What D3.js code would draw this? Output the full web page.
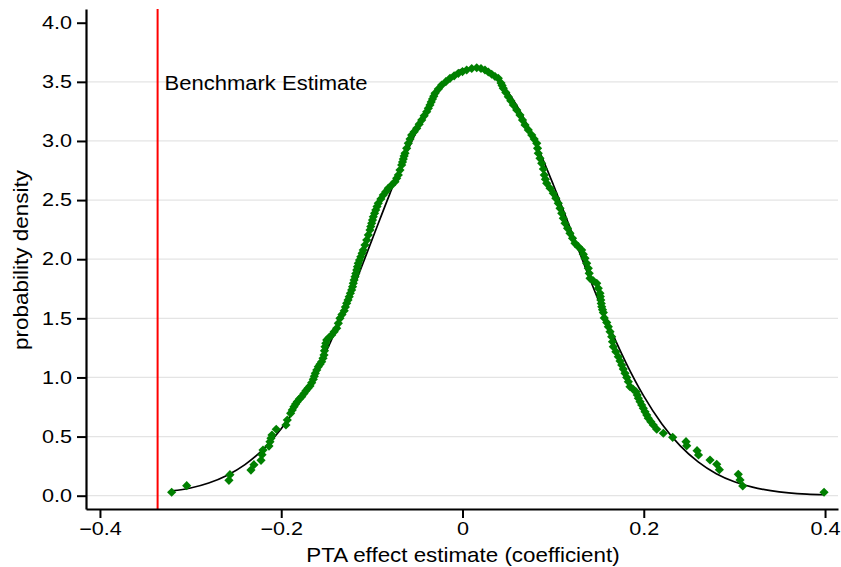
<!DOCTYPE html>
<html>
<head>
<meta charset="utf-8">
<script src="https://cdn.jsdelivr.net/npm/d3@7"></script>
<style>
  body { margin: 0; background: #fff; }
  text { font-family: "Liberation Sans", Arial, sans-serif; }
</style>
</head>
<body>
<div id="chart"></div>
<script>
// Benchmark coefficient (red line)
var benchmark = -0.3364;

// Normal density curve (black line)
var normX = [-0.321, -0.30, -0.28, -0.26, -0.24, -0.22, -0.20, -0.18, -0.16, -0.14, -0.12, -0.10,
             -0.08, -0.06, -0.04, -0.02, 0.00, 0.02, 0.04, 0.06, 0.08, 0.10, 0.12, 0.14,
             0.16, 0.18, 0.20, 0.22, 0.24, 0.26, 0.28, 0.30, 0.32, 0.34, 0.36, 0.38, 0.399];
var normY = [0.040, 0.065, 0.107, 0.171, 0.263, 0.392, 0.567, 0.791, 1.069, 1.396, 1.766, 2.161,
             2.557, 2.928, 3.244, 3.477, 3.606, 3.617, 3.511, 3.298, 2.997, 2.634, 2.240, 1.843,
             1.468, 1.130, 0.842, 0.607, 0.423, 0.286, 0.186, 0.118, 0.072, 0.043, 0.024, 0.013, 0.008];

// Kernel density at each estimate (green diamonds)
var estX = [-0.3209, -0.3043, -0.2577, -0.2566, -0.2334, -0.2301, -0.2223, -0.2212, -0.2201, -0.2135,
  -0.2124, -0.2113, -0.2102, -0.2055, -0.1948, -0.1933, -0.1896, -0.1878, -0.1859, -0.1841, -0.1823,
  -0.1799, -0.1774, -0.1749, -0.1727, -0.1705, -0.1683, -0.1664, -0.1646, -0.1635, -0.1624,
  -0.1608, -0.1591, -0.1572, -0.1554, -0.1539, -0.1528, -0.1523, -0.1517, -0.1508, -0.1498,
  -0.1471, -0.1443, -0.1416, -0.1388, -0.1370, -0.1352, -0.1330, -0.1305, -0.1292, -0.1278,
  -0.1263, -0.1250, -0.1237, -0.1223, -0.1213, -0.1205, -0.1196, -0.1186, -0.1177, -0.1167,
  -0.1159, -0.1150, -0.1136, -0.1122, -0.1108, -0.1095, -0.1076, -0.1057, -0.1039, -0.1021,
  -0.1012, -0.1002, -0.0993, -0.0984, -0.0970, -0.0957, -0.0943, -0.0929, -0.0901, -0.0874,
  -0.0846, -0.0819, -0.0781, -0.0745, -0.0726, -0.0708, -0.0690, -0.0671, -0.0662, -0.0653,
  -0.0644, -0.0634, -0.0616, -0.0598, -0.0579, -0.0561, -0.0533, -0.0505, -0.0478, -0.0450,
  -0.0423, -0.0395, -0.0377, -0.0359, -0.0345, -0.0331, -0.0317, -0.0303, -0.0267, -0.0230,
  -0.0184, -0.0138, -0.0092, -0.0046, 0.0000, 0.0046, 0.0102, 0.0157,
  0.0204, 0.0248, 0.0285, 0.0322, 0.0359, 0.0395, 0.0425, 0.0437, 0.0450, 0.0478, 0.0505,
  0.0533, 0.0561, 0.0598, 0.0634, 0.0662, 0.0690, 0.0726, 0.0764, 0.0791, 0.0819,
  0.0828, 0.0836, 0.0855, 0.0874, 0.0892, 0.0902, 0.0915, 0.0929, 0.0966, 0.1002, 0.1030,
  0.1057, 0.1076, 0.1095, 0.1112, 0.1131, 0.1159, 0.1186, 0.1214, 0.1241, 0.1278,
  0.1315, 0.1333, 0.1352, 0.1370, 0.1388, 0.1398, 0.1407, 0.1443, 0.1481, 0.1498,
  0.1517, 0.1521, 0.1526, 0.1531, 0.1536, 0.1545, 0.1554, 0.1564, 0.1591, 0.1609, 0.1628,
  0.1646, 0.1655, 0.1664, 0.1692, 0.1719, 0.1738, 0.1757, 0.1774, 0.1793, 0.1812,
  0.1830, 0.1848, 0.1881, 0.1914, 0.1928, 0.1940, 0.1959, 0.1977, 0.1995, 0.2014,
  0.2033, 0.2050, 0.2078, 0.2105, 0.2143, 0.2216, 0.2319, 0.2466, 0.2474, 0.2588,
  0.2604, 0.2731, 0.2805, 0.2834, 0.3043, 0.3062, 0.3092, 0.3989];
var estDensity = [0.029, 0.085, 0.130, 0.178, 0.217, 0.262, 0.299, 0.347, 0.386, 0.420,
  0.457, 0.485, 0.513, 0.562, 0.598, 0.640, 0.697, 0.725, 0.753, 0.775, 0.795,
  0.818, 0.837, 0.864, 0.888, 0.908, 0.928, 0.956, 0.984, 1.010, 1.035,
  1.063, 1.091, 1.112, 1.133, 1.162, 1.190, 1.225, 1.260, 1.289, 1.317,
  1.338, 1.359, 1.387, 1.416, 1.458, 1.500, 1.532, 1.564, 1.596, 1.627,
  1.655, 1.683, 1.712, 1.740, 1.768, 1.796, 1.824, 1.852, 1.880, 1.909,
  1.937, 1.965, 1.993, 2.021, 2.050, 2.078, 2.120, 2.162, 2.205, 2.247,
  2.276, 2.304, 2.331, 2.359, 2.388, 2.416, 2.445, 2.473, 2.509, 2.543,
  2.571, 2.600, 2.627, 2.655, 2.684, 2.712, 2.754, 2.797, 2.822, 2.847,
  2.872, 2.896, 2.938, 2.980, 3.016, 3.050, 3.078, 3.107, 3.142, 3.177,
  3.213, 3.247, 3.276, 3.304, 3.330, 3.355, 3.379, 3.403, 3.439, 3.473,
  3.501, 3.530, 3.551, 3.572, 3.587, 3.600, 3.613, 3.619,
  3.613, 3.600, 3.583, 3.564, 3.545, 3.530, 3.490, 3.468, 3.445, 3.410, 3.374,
  3.340, 3.304, 3.262, 3.219, 3.177, 3.135, 3.093, 3.050, 3.016, 2.980,
  2.938, 2.896, 2.853, 2.811, 2.763, 2.712, 2.677, 2.642, 2.600, 2.557, 2.515,
  2.473, 2.430, 2.388, 2.346, 2.304, 2.261, 2.219, 2.177, 2.134, 2.106,
  2.078, 2.042, 2.008, 1.965, 1.923, 1.881, 1.838, 1.817, 1.796, 1.754,
  1.712, 1.684, 1.655, 1.626, 1.598, 1.573, 1.549, 1.503, 1.465, 1.429, 1.387,
  1.345, 1.302, 1.260, 1.218, 1.175, 1.139, 1.105, 1.071, 1.035, 1.000,
  0.964, 0.922, 0.902, 0.879, 0.852, 0.824, 0.795, 0.767, 0.739, 0.710,
  0.682, 0.655, 0.626, 0.598, 0.562, 0.528, 0.494, 0.457, 0.423, 0.381,
  0.344, 0.302, 0.266, 0.220, 0.181, 0.133, 0.082, 0.029];

var xTicks = [-0.4, -0.2, 0, 0.2, 0.4];
var yTicks = [0, 0.5, 1, 1.5, 2, 2.5, 3, 3.5, 4];
var gridTicks = [0, 0.5, 1, 1.5, 2, 2.5, 3, 3.5];

var width = 841, height = 567;

var svg = d3.select("#chart").append("svg")
    .attr("width", width)
    .attr("height", height);

svg.append("rect").attr("width", width).attr("height", height).attr("fill", "#fff");

// widen text a bit, the original glyphs are broader than Liberation Sans
function stretch(sel, factor) {
  sel.each(function() {
    var len = this.getComputedTextLength();
    d3.select(this)
      .attr("textLength", len * factor)
      .attr("lengthAdjust", "spacingAndGlyphs");
  });
}

// Scales (domain padded a little beyond the tick range, like Stata)
var x = d3.scaleLinear().domain([-0.4154, 0.4143]).range([86, 838]);
var y = d3.scaleLinear().domain([-0.1125, 4.116]).range([509, 9]);

// Horizontal grid lines
svg.append("g").selectAll("line")
    .data(gridTicks)
  .enter().append("line")
    .attr("x1", 87).attr("x2", 838)
    .attr("y1", function(d) { return y(d); })
    .attr("y2", function(d) { return y(d); })
    .attr("stroke", "#e4e4e4")
    .attr("stroke-width", 1.3);

// Benchmark line
svg.append("line")
    .attr("x1", x(benchmark)).attr("x2", x(benchmark))
    .attr("y1", y.range()[1]).attr("y2", y.range()[0])
    .attr("stroke", "#ff0000")
    .attr("stroke-width", 2);

svg.append("text")
    .attr("x", x(benchmark) + 7)
    .attr("y", 90)
    .attr("font-size", "20px")
    .attr("fill", "#000")
    .text("Benchmark Estimate")
    .call(stretch, 1.1);

// Normal curve
var line = d3.line()
    .x(function(d, i) { return x(normX[i]); })
    .y(function(d) { return y(d); })
    .curve(d3.curveMonotoneX);

svg.append("path")
    .datum(normY)
    .attr("d", line)
    .attr("fill", "none")
    .attr("stroke", "#000")
    .attr("stroke-width", 1.7);

// Density points
var diamond = "M0,-4.6L4.6,0L0,4.6L-4.6,0Z";
svg.append("g").selectAll("path")
    .data(estDensity)
  .enter().append("path")
    .attr("d", diamond)
    .attr("transform", function(d, i) { return "translate(" + x(estX[i]) + "," + y(d) + ")"; })
    .attr("fill", "#008000");

// Axes
var fmtY = d3.format(".1f");
var yAxis = svg.append("g")
    .attr("transform", "translate(86,0)")
    .call(d3.axisLeft(y).tickValues(yTicks).tickFormat(fmtY).tickSize(9).tickPadding(5).tickSizeOuter(0));

var xAxis = svg.append("g")
    .attr("transform", "translate(0,509)")
    .call(d3.axisBottom(x).tickValues(xTicks)
      .tickFormat(function(d) { return d === 0 ? "0" : fmtY(d); })
      .tickSize(9).tickPadding(4).tickSizeOuter(0));

[yAxis, xAxis].forEach(function(a) {
  a.select(".domain").attr("stroke-width", 2.2);
  a.selectAll(".tick line").attr("stroke-width", 2);
  a.selectAll(".tick text")
    .attr("font-family", "Liberation Sans, Arial, sans-serif")
    .attr("font-size", "18px")
    .attr("fill", "#000")
    .call(stretch, 1.2);
});

// Axis titles
svg.append("text")
    .attr("x", 463)
    .attr("y", 562)
    .attr("text-anchor", "middle")
    .attr("font-size", "21px")
    .text("PTA effect estimate (coefficient)")
    .call(stretch, 1.065);

svg.append("text")
    .attr("transform", "translate(28,260) rotate(-90)")
    .attr("text-anchor", "middle")
    .attr("font-size", "21px")
    .attr("textLength", 180)
    .attr("lengthAdjust", "spacingAndGlyphs")
    .text("probability density");
</script>
</body>
</html>
